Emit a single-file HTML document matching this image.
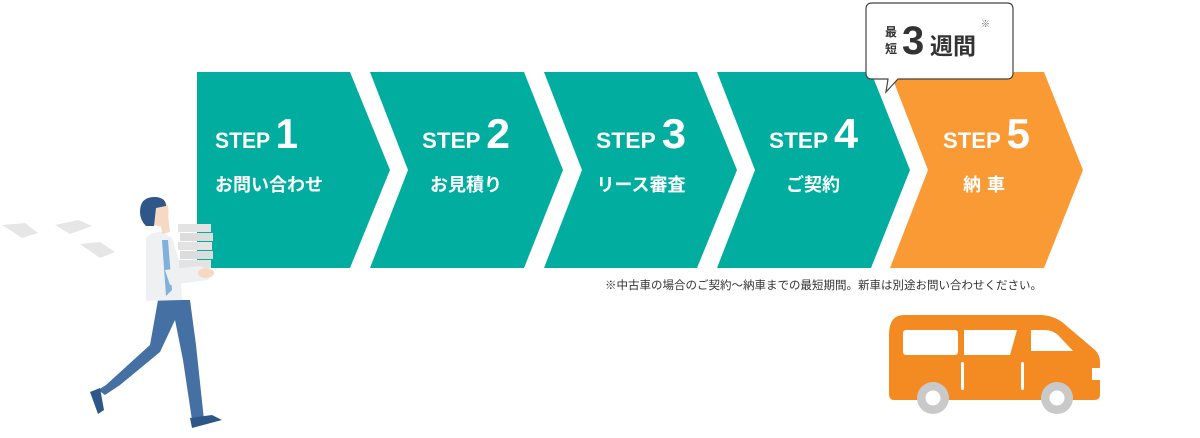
<!DOCTYPE html>
<html><head><meta charset="utf-8"><style>
html,body{margin:0;padding:0;background:#fff;}
body{width:1200px;height:438px;position:relative;overflow:hidden;font-family:"Liberation Sans","Noto Sans CJK JP",sans-serif;}
svg{position:absolute;left:0;top:0;}
</style></head><body>
<svg width="1200" height="438" viewBox="0 0 1200 438" xmlns="http://www.w3.org/2000/svg" font-family="Liberation Sans, Noto Sans CJK JP, sans-serif">
<polygon points="197,72 350,72 390,170 350,268 197,268" fill="#00ad9f"/>
<polygon points="370,72 524,72 563,170 524,268 370,268 408,170" fill="#00ad9f"/>
<polygon points="544,72 697,72 737,170 697,268 544,268 582,170" fill="#00ad9f"/>
<polygon points="717,72 871,72 910,170 871,268 717,268 755,170" fill="#00ad9f"/>
<polygon points="890,72 1044,72 1083,170 1044,268 890,268 928,170" fill="#fa9a35"/>
<g fill="#fff" font-weight="bold">
 <text x="215" y="148" font-size="22" textLength="83" lengthAdjust="spacingAndGlyphs">STEP <tspan font-size="42">1</tspan></text>
 <text x="215" y="191" font-size="18">お問い合わせ</text>
 <text x="422" y="148" font-size="22" textLength="88" lengthAdjust="spacingAndGlyphs">STEP <tspan font-size="42">2</tspan></text>
 <text x="466" y="191" font-size="18" text-anchor="middle">お見積り</text>
 <text x="596" y="148" font-size="22" textLength="90" lengthAdjust="spacingAndGlyphs">STEP <tspan font-size="42">3</tspan></text>
 <text x="641" y="191" font-size="18" text-anchor="middle">リース審査</text>
 <text x="769" y="148" font-size="22" textLength="89" lengthAdjust="spacingAndGlyphs">STEP <tspan font-size="42">4</tspan></text>
 <text x="813" y="191" font-size="18" text-anchor="middle">ご契約</text>
 <text x="943" y="148" font-size="22" textLength="87" lengthAdjust="spacingAndGlyphs">STEP <tspan font-size="42">5</tspan></text>
 <text x="987" y="191" font-size="18" text-anchor="middle" letter-spacing="6">納車</text>
</g>
<path d="M872,3 H1007 Q1013,3 1013,9 V73 Q1013,79 1007,79 H898 L886,92 L888,79 H872 Q866,79 866,73 V9 Q866,3 872,3 Z" fill="#fff" stroke="#444" stroke-width="1.2"/>
<text x="885" y="36" font-size="12" font-weight="bold" fill="#333">最</text>
<text x="885" y="53" font-size="12" font-weight="bold" fill="#333">短</text>
<text x="902" y="54" font-size="40" font-weight="bold" fill="#333">3</text>
<text x="930" y="54" font-size="23" font-weight="bold" fill="#333">週間</text>
<text x="981" y="27" font-size="9" fill="#666">※</text>
<text x="1042" y="289" font-size="11.5" fill="#333" text-anchor="end">※中古車の場合のご契約～納車までの最短期間。新車は別途お問い合わせください。</text>
<path d="M904,315 H1040 Q1052,315 1062,322 L1095,350 Q1100,355 1100,362 V395 Q1100,400 1094,400 H894 Q889,400 889,394 V335 Q889,315 904,315 Z" fill="#f48a22"/>
<rect x="903" y="330" width="55" height="25" rx="3" fill="#fff"/>
<polygon points="964,330 1017,330 1010,355 964,355" fill="#fff"/>
<path d="M1031,330 H1045 Q1052,330 1058,335 L1073,351 H1031 Z" fill="#fff"/>
<rect x="1092" y="368" width="10" height="12" fill="#fff"/>
<rect x="961" y="362" width="3" height="28" rx="1.5" fill="#fff"/>
<rect x="1021" y="362" width="3" height="28" rx="1.5" fill="#fff"/>
<circle cx="933" cy="398" r="16" fill="#c9c9c9"/><circle cx="933" cy="398" r="7.5" fill="#fff"/>
<circle cx="1057" cy="398" r="16" fill="#c9c9c9"/><circle cx="1057" cy="398" r="7.5" fill="#fff"/>
<polygon points="2,225 25,223 38,233 22,238" fill="#e6e6e6"/>
<polygon points="55,225 78,220 92,226 70,234" fill="#e6e6e6"/>
<polygon points="80,244 100,242 115,252 100,258" fill="#e6e6e6"/>
<path d="M158,300 L150,345 L106,385 L98,390 L105,395 L120,385 L160,352 L175,320 L183,360 L192,420 L204,420 L196,345 L190,300 Z" fill="#4470a4"/>
<path d="M90,392 L100,388 L104,410 L98,414 Z" fill="#2f5689"/>
<path d="M190,418 L212,415 L222,420 L192,428 Z" fill="#2f5689"/>
<path d="M146,238 Q150,232 162,232 L172,238 L180,265 L182,300 L146,301 Z" fill="#eef0f2"/>
<path d="M162,240 L168,240 L172,290 L166,296 Z" fill="#7fb1dc"/>
<rect x="178" y="224" width="33" height="8" fill="#e3e3e3"/>
<rect x="180" y="233" width="33" height="8" fill="#dcdcdc"/>
<rect x="178" y="242" width="34" height="8" fill="#e3e3e3"/>
<rect x="180" y="251" width="33" height="8" fill="#dcdcdc"/>
<rect x="179" y="260" width="32" height="8" fill="#e3e3e3"/>
<path d="M165,270 L200,266 L214,272 L208,280 L170,285 Z" fill="#eef0f2"/>
<ellipse cx="206" cy="273" rx="8" ry="5" fill="#f5d9c2"/>
<path d="M160,218 L168,215 L170,232 L162,234 Z" fill="#f5d9c2"/>
<path d="M152,200 Q162,196 168,206 Q170,218 164,226 Q152,228 148,218 Z" fill="#f5d9c2"/>
<path d="M140,212 Q140,196 156,197 Q166,198 166,206 L156,208 L154,226 L146,226 Q140,220 140,212 Z" fill="#2f5689"/>
</svg>
</body></html>
